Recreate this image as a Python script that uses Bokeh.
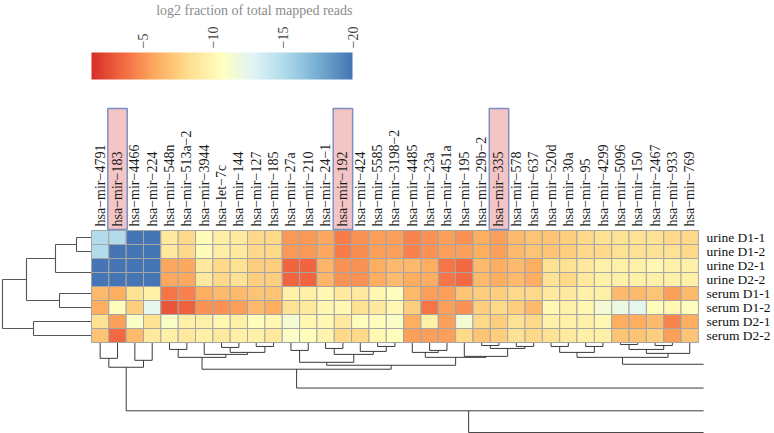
import numpy as np
from bokeh.plotting import figure
from bokeh.models import Range1d, LinearColorMapper, ColumnDataSource
from bokeh.transform import transform
from bokeh.core.properties import value
from bokeh.embed import file_html
from bokeh.resources import INLINE

# ---------------- data ----------------
mirnas = ["hsa−mir−4791", "hsa−mir−183", "hsa−mir−4466", "hsa−mir−224", "hsa−mir−548n",
          "hsa−mir−513a−2", "hsa−mir−3944", "hsa−let−7c", "hsa−mir−144", "hsa−mir−127",
          "hsa−mir−185", "hsa−mir−27a", "hsa−mir−210", "hsa−mir−24−1", "hsa−mir−192",
          "hsa−mir−424", "hsa−mir−5585", "hsa−mir−3198−2", "hsa−mir−4485", "hsa−mir−23a",
          "hsa−mir−451a", "hsa−mir−195", "hsa−mir−29b−2", "hsa−mir−335", "hsa−mir−578",
          "hsa−mir−637", "hsa−mir−520d", "hsa−mir−30a", "hsa−mir−95", "hsa−mir−4299",
          "hsa−mir−5096", "hsa−mir−150", "hsa−mir−2467", "hsa−mir−933", "hsa−mir−769"]
samples = ["urine D1-1", "urine D1-2", "urine D2-1", "urine D2-2",
           "serum D1-1", "serum D1-2", "serum D2-1", "serum D2-2"]

urine_d1_1 = [-15, -15, -20, -20, -9, -8, -10.3, -9.3, -9, -8,
              -8, -5.2, -5.2, -5.8, -4.2, -5, -5.5, -5.5, -4.5, -5,
              -5.5, -5, -6, -5.5, -6.5, -7, -7, -7.5, -8, -8.5,
              -8.5, -8.5, -8.5, -8, -8]
urine_d1_2 = [-15, -20, -20, -20, -9, -8, -10.3, -9.3, -9, -8,
              -8, -5.2, -5.2, -5.8, -4.2, -4.8, -5.5, -5.5, -4.3, -5,
              -5.5, -5.5, -6, -5.5, -6.5, -7, -7, -7.5, -8, -8,
              -8.5, -8.5, -8.5, -8.5, -8]
urine_d2_1 = [-20, -20, -20, -20, -5.8, -5.8, -9, -8, -8.5, -7.5,
              -7.5, -3.3, -3.3, -6.3, -5, -5, -6, -6.5, -6.5, -6,
              -4, -3.5, -6.5, -6, -6.5, -6, -8.5, -8.5, -9, -9.5,
              -9.5, -9.5, -10, -9.5, -9.5]
urine_d2_2 = [-20, -20, -20, -20, -5.8, -5.8, -9, -8, -8.5, -7.5,
              -7.5, -3.3, -3.3, -6.3, -5, -5, -6, -6.5, -6, -6,
              -4, -3.5, -6.5, -6, -6.5, -6, -8.5, -8, -9, -9.5,
              -9.5, -9.5, -9.5, -9.5, -9.5]
serum_d1_1 = [-6.5, -6, -8.5, -9.5, -4, -4.3, -6, -6.5, -6.5, -7,
              -7, -9.5, -9.5, -10, -9, -9, -10, -10.5, -6.5, -5.5,
              -5.5, -7, -7.5, -7.5, -8, -8, -9, -9, -9.5, -9.5,
              -6.5, -6.5, -7, -5.5, -6.5]
serum_d1_2 = [-6, -10.5, -7.5, -12.5, -2.8, -3.2, -5, -5, -5.5, -6.5,
              -6, -8.5, -9, -10, -10, -8.5, -9, -10, -7.5, -4,
              -5.5, -5, -7.5, -8, -7.5, -6.5, -10, -9.5, -10, -11.5,
              -12, -12.5, -10.5, -10, -10.5]
serum_d2_1 = [-8.5, -5.5, -11, -8.5, -11, -9.5, -9.5, -10, -9.5, -10.5,
              -10, -11.5, -10, -10, -9, -10.5, -10.5, -11, -6, -9.5,
              -5.5, -11.5, -8, -7.5, -8.5, -8, -9.5, -9.5, -9.5, -10,
              -6, -6, -6.5, -4.5, -6]
serum_d2_2 = [-7, -3.5, -6.5, -9, -9.5, -9, -9.5, -9, -9.5, -9.5,
              -9, -11, -10.5, -9.8, -8, -8, -10, -10.5, -5.5, -5.5,
              -5.5, -8, -7, -7.5, -8.5, -8, -8.5, -9, -9.5, -9.5,
              -7, -7, -7.5, -5.5, -7]
rows_values = [urine_d1_1, urine_d1_2, urine_d2_1, urine_d2_2,
               serum_d1_1, serum_d1_2, serum_d2_1, serum_d2_2]

highlighted = ["hsa−mir−183", "hsa−mir−192", "hsa−mir−335"]

cbar_title = "log2 fraction of total mapped reads"
cbar_ticks = [-5, -10, -15, -20]
cbar_high, cbar_low = -1.3, -20.0

# row dendrogram (leaf = row index, node = (left, right, height))
row_tree = ((((0, 1, 15), (2, 3, 0), 36), (4, 5, 32), 65), (6, 7, 58), 89)

# column dendrogram; leaves >= 35 lie outside the visible window (clipped branches)
col_A = ((0, 1, 16), (2, 3, 18), 25)
col_L = ((4, 5, 7), (6, ((7, 8, 5), (9, 10, 4), 10), 12), 15)
col_M = ((11, 12, 8), ((13, 14, 6), (15, (16, 17, 4), 9), 12), 20)
col_R = ((18, (19, 20, 8), 10), (21, ((22, 23, 3), (24, 25, 4), 6), 14), 15)
col_S = (((26, 27, 4), (28, 29, 4), 10), (((30, 31, 2), (32, 33, 3), 7), 34, 11), 15)
col_forest = [((col_A, 41, 69), 43, 91),
              ((col_L, (col_M, col_R, 23), 27), 38, 46),
              (col_S, 36, 22)]

# ---------------- layout ----------------
W, H = 774, 433
cw, rh = 17.34, 14.0          # px per column / row
hm_left, hm_top = 91.0, 230.0  # heatmap top-left in figure px
n_cols, n_rows = len(mirnas), len(samples)

p = figure(width=W, height=H, output_backend="svg", toolbar_location=None,
           x_range=Range1d(-hm_left / cw, (W - hm_left) / cw),
           y_range=Range1d(-(H - hm_top) / rh, hm_top / rh),
           x_axis_location=None, y_axis_location=None, min_border=0)
p.grid.visible = False
p.outline_line_color = None
p.background_fill_color = "white"

anchors = ["#4575b4", "#74add1", "#abd9e9", "#e0f3f8", "#ffffbf",
           "#fee090", "#fdae61", "#f46d43", "#d73027"]
def hex2rgb(h):
    return np.array([int(h[i:i + 2], 16) for i in (1, 3, 5)], dtype=float)
arr = np.array([hex2rgb(c) for c in anchors])
t = np.linspace(0, len(anchors) - 1, 256)
palette = []
for tt in t:
    i = min(int(tt), len(anchors) - 2)
    f = tt - i
    c = arr[i] * (1 - f) + arr[i + 1] * f
    palette.append("#%02x%02x%02x" % tuple(int(round(v)) for v in c))
mapper = LinearColorMapper(palette=palette, low=cbar_low, high=cbar_high)

# dendrogram helper
def walk(node, segs):
    if isinstance(node, int):
        return node + 0.5, 0.0
    l, r, h = node
    xl, hl = walk(l, segs)
    xr, hr = walk(r, segs)
    segs.append((xl, hl, xl, h))
    segs.append((xr, hr, xr, h))
    segs.append((xl, h, xr, h))
    return (xl + xr) / 2.0, h

# row dendrogram
rsegs = []
walk(row_tree, rsegs)
row_scale = 1.0 / cw
p.segment(x0=[-s[1] * row_scale for s in rsegs], y0=[-s[0] for s in rsegs],
          x1=[-s[3] * row_scale for s in rsegs], y1=[-s[2] for s in rsegs],
          line_color="#555555", line_width=1.1)

# column dendrogram
csegs = []
for tree in col_forest:
    walk(tree, csegs)
clip = n_cols + 0.3
col_scale = 0.99 / rh
cx0, cy0, cx1, cy1 = [], [], [], []
for (a, ha, b, hb) in csegs:
    if min(a, b) >= clip:
        continue
    cx0.append(min(a, clip)); cx1.append(min(b, clip))
    cy0.append(-n_rows - ha * col_scale); cy1.append(-n_rows - hb * col_scale)
p.segment(x0=cx0, y0=cy0, x1=cx1, y1=cy1, line_color="#3a3a3a", line_width=1)

# heatmap
xs, ys, vs = [], [], []
for r, vals in enumerate(rows_values):
    assert len(vals) == n_cols
    for c, v in enumerate(vals):
        xs.append(c + 0.5); ys.append(-(r + 0.5)); vs.append(v)
src = ColumnDataSource(dict(x=xs, y=ys, v=vs))
p.rect(x="x", y="y", width=1, height=1, source=src,
       fill_color=transform("v", mapper), line_color="#a5a5a5", line_width=1)

# highlight boxes
hi = [mirnas.index(m) for m in highlighted]
p.quad(left=[i - 0.06 for i in hi], right=[i + 1.06 for i in hi],
       bottom=[1.0 / rh] * len(hi), top=[122.0 / rh] * len(hi),
       fill_color="#f3c5c5", line_color="#7d90c4", line_width=1.5)

# column labels
p.text(x=[i + 0.5 for i in range(n_cols)], y=[4.0 / rh] * n_cols, text=mirnas,
       angle=np.pi / 2, text_align="left", text_baseline="middle",
       text_font=value("Liberation Serif"), text_font_size="14px", text_color="#1a1a1a")

# row labels
p.text(x=[n_cols + 8.0 / cw] * n_rows, y=[-(r + 0.5) for r in range(n_rows)], text=samples,
       text_align="left", text_baseline="middle",
       text_font=value("Liberation Serif"), text_font_size="13.5px", text_color="#111111")

# colour bar (image through the same colour mapper)
bar_w = 261.0 / cw
bar_bottom, bar_top = 151.0 / rh, 178.0 / rh
grad = np.linspace(cbar_high, cbar_low, 400).reshape(1, -1)
p.image(image=[grad], x=0, y=bar_bottom, dw=bar_w, dh=bar_top - bar_bottom,
        color_mapper=mapper)
tick_x = [(tv - cbar_high) / (cbar_low - cbar_high) * bar_w for tv in cbar_ticks]
p.text(x=tick_x, y=[182.0 / rh] * len(cbar_ticks), text=["−%d" % abs(tv) for tv in cbar_ticks],
       angle=np.pi / 2, text_align="left", text_baseline="middle",
       text_font=value("Liberation Serif"), text_font_size="14px", text_color="#444444")
p.text(x=[bar_w], y=[(hm_top - 2.0) / rh], text=[cbar_title],
       text_align="right", text_baseline="top",
       text_font=value("Liberation Serif"), text_font_size="14px", text_color="#8c8c8c")

open("out.html", "w").write(file_html(p, INLINE))
